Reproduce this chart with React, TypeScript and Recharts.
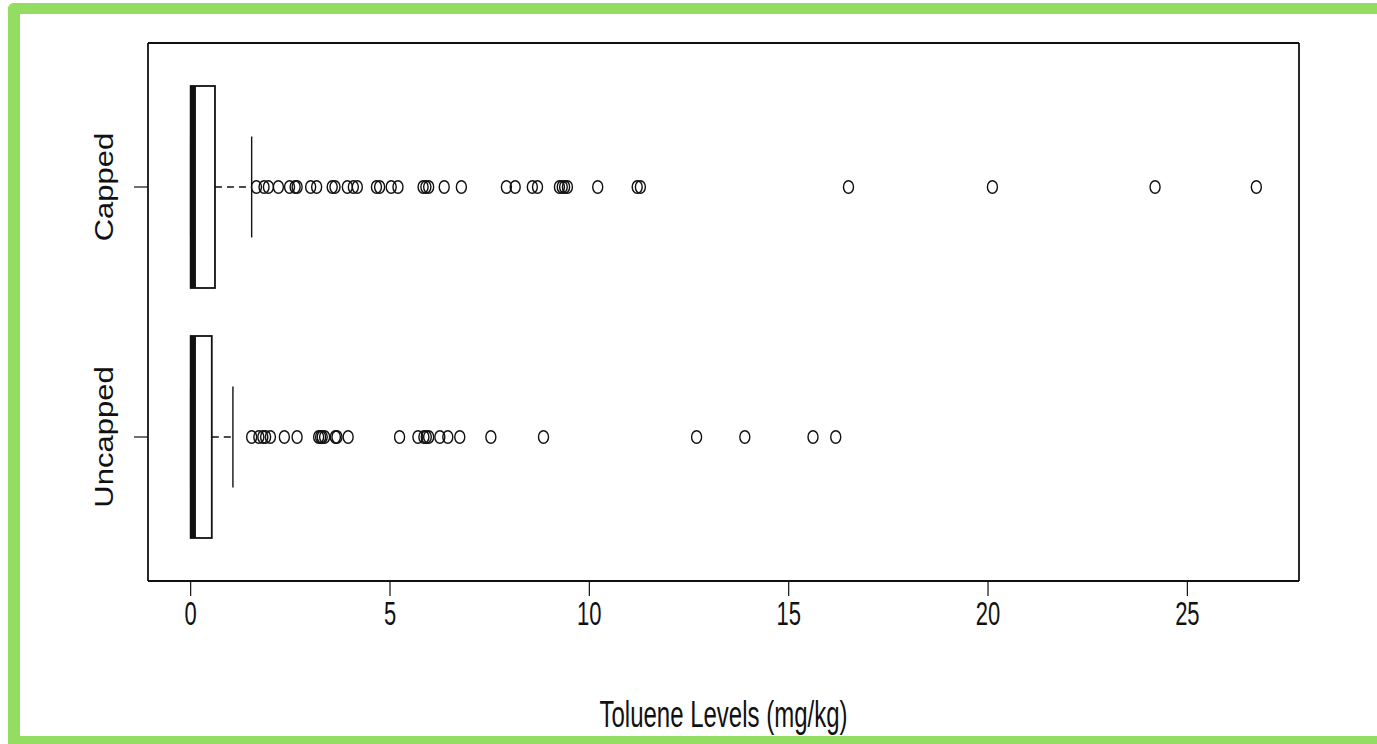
import React from 'react';
import { ComposedChart, Bar, Scatter, XAxis, YAxis } from 'recharts';

// box statistics (mg/kg)
const groups = ['Capped', 'Uncapped'];
const lowWhisker = [0, 0];
const firstQuartile = [0, 0];
const medians = [0.07, 0.07];
const thirdQuartile = [0.61, 0.53];
const highWhisker = [1.53, 1.06];

const cappedOutliers = [
  1.65, 1.84, 1.95, 2.2, 2.48, 2.62, 2.67, 3.01, 3.16, 3.55, 3.62, 3.93, 4.08, 4.18,
  4.66, 4.74, 5.03, 5.2, 5.83, 5.9, 5.97, 6.36, 6.79, 7.92, 8.14, 8.57, 8.7, 9.25,
  9.32, 9.38, 9.45, 10.21, 11.2, 11.28, 16.5, 20.11, 24.19, 26.73,
];
const uncappedOutliers = [
  1.53, 1.71, 1.81, 1.88, 2.0, 2.35, 2.67, 3.21, 3.26, 3.3, 3.36, 3.63, 3.67, 3.95,
  5.24, 5.7, 5.85, 5.91, 5.97, 6.25, 6.45, 6.75, 7.53, 8.85, 12.69, 13.9, 15.61, 16.18,
];

const xTicks = [0, 5, 10, 15, 20, 25];
const xDomain = [-1.07, 27.8];
const xTitle = 'Toluene Levels (mg/kg)';

const boxData = groups.map((name, i) => ({
  name,
  lo: lowWhisker[i],
  q1: firstQuartile[i],
  med: medians[i],
  q3: thirdQuartile[i],
  hi: highWhisker[i],
}));

const outlierData = [
  ...cappedOutliers.map((value) => ({ name: 'Capped', value })),
  ...uncappedOutliers.map((value) => ({ name: 'Uncapped', value })),
];

const FONT = '"Liberation Sans", Arial, sans-serif';
const INK = '#111';
const frameLine = { stroke: INK, strokeWidth: 1.8 };

const BoxShape = (props: any) => {
  const { x, y, width, height, payload } = props;
  const k = width / (payload.q3 - payload.q1);
  const px = (v: number) => x + (v - payload.q1) * k;
  const cy = y + height / 2;
  const cap = height / 2;
  const xHi = px(payload.hi);
  const xLo = px(payload.lo);
  const xMed = px(payload.med);
  return (
    <g>
      <line x1={x + width} y1={cy} x2={xHi} y2={cy} stroke={INK} strokeWidth={1.6} strokeDasharray="7 5" />
      <line x1={xHi} y1={cy - cap / 2} x2={xHi} y2={cy + cap / 2} stroke={INK} strokeWidth={1.4} />
      <line x1={xLo} y1={cy - cap / 2} x2={xLo} y2={cy + cap / 2} stroke={INK} strokeWidth={1.4} />
      <rect x={x} y={y} width={width} height={height} fill="#fff" stroke={INK} strokeWidth={1.8} />
      <line x1={xMed} y1={y} x2={xMed} y2={y + height} stroke={INK} strokeWidth={5} />
    </g>
  );
};

const Ring = (props: any) => {
  const { cx, cy } = props;
  return <ellipse cx={cx} cy={cy} rx={5} ry={6.3} fill="none" stroke={INK} strokeWidth={1.4} />;
};

const XTick = (props: any) => {
  const { x, y, payload } = props;
  return (
    <text
      transform={`translate(${x},${y + 27}) scale(1,1.5)`}
      textAnchor="middle"
      fontFamily={FONT}
      fontSize={22}
      fill={INK}
    >
      {payload.value}
    </text>
  );
};

const YTick = (props: any) => {
  const { y, payload } = props;
  return (
    <text
      transform={`translate(113,${y}) rotate(-90) scale(1.24,1)`}
      textAnchor="middle"
      fontFamily={FONT}
      fontSize={25}
      fill={INK}
    >
      {payload.value}
    </text>
  );
};

const XTitle = (props: any) => {
  const { viewBox } = props;
  const cx = viewBox.x + viewBox.width / 2;
  return (
    <text
      transform={`translate(${cx},727) scale(1,1.55)`}
      textAnchor="middle"
      fontFamily={FONT}
      fontSize={24}
      fill={INK}
    >
      {xTitle}
    </text>
  );
};

export default function App() {
  return (
    <div style={{ position: 'absolute', left: 0, top: 0, width: 1377, height: 744, overflow: 'hidden', background: '#fff' }}>
      <div
        style={{
          position: 'absolute',
          left: 8,
          top: 3,
          width: 1420,
          height: 722,
          borderTop: '11px solid #94DD63',
          borderLeft: '12px solid #94DD63',
          borderBottom: '12px solid #94DD63',
          borderTopLeftRadius: 6,
        }}
      />
      <div style={{ position: 'absolute', left: 0, top: 0 }}>
        <ComposedChart
          width={1377}
          height={744}
          data={boxData}
          layout="vertical"
          margin={{ top: 42, right: 77, bottom: 103, left: 88 }}
        >
          <XAxis
            type="number"
            dataKey="value"
            domain={xDomain}
            allowDataOverflow
            ticks={xTicks}
            tickSize={15}
            tickMargin={2}
            height={60}
            axisLine={frameLine}
            tickLine={{ stroke: INK, strokeWidth: 1.2 }}
            tick={<XTick />}
            label={{ content: <XTitle /> }}
          />
          <XAxis
            xAxisId="top"
            orientation="top"
            type="number"
            dataKey="value"
            domain={xDomain}
            allowDataOverflow
            ticks={xTicks}
            height={1}
            tick={false}
            tickLine={false}
            axisLine={frameLine}
          />
          <YAxis
            type="category"
            dataKey="name"
            allowDuplicatedCategory={false}
            width={60}
            padding={{ top: 19, bottom: 19 }}
            tickSize={14}
            axisLine={frameLine}
            tickLine={{ stroke: INK, strokeWidth: 1.2 }}
            tick={<YTick />}
          />
          <YAxis
            yAxisId="right"
            orientation="right"
            type="category"
            dataKey="name"
            allowDuplicatedCategory={false}
            padding={{ top: 19, bottom: 19 }}
            width={1}
            tick={false}
            tickLine={false}
            axisLine={frameLine}
          />
          <Bar
            yAxisId="right"
            dataKey={(d: any) => [d.q1, d.q3]}
            barSize={202}
            shape={<BoxShape />}
            isAnimationActive={false}
          />
          <Scatter
            xAxisId="top"
            data={outlierData}
            dataKey="value"
            shape={<Ring />}
            isAnimationActive={false}
          />
        </ComposedChart>
      </div>
    </div>
  );
}
